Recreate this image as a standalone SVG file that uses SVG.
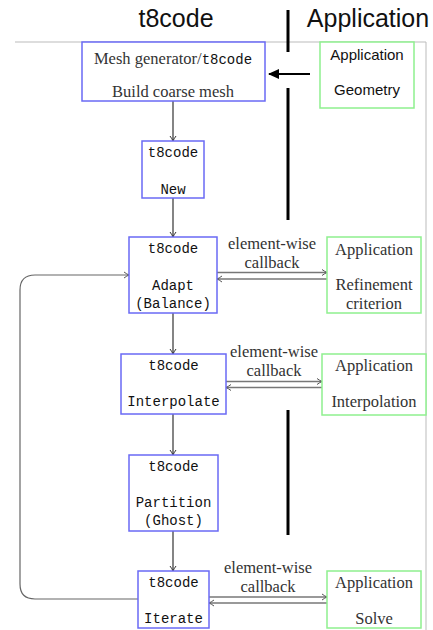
<svg xmlns="http://www.w3.org/2000/svg" width="433" height="630" viewBox="0 0 433 630">
<defs>
<marker id="open" markerWidth="8" markerHeight="8" refX="6" refY="4" orient="auto" markerUnits="userSpaceOnUse">
<path d="M1,1 Q4,3.2 6,4 Q4,4.8 1,7" fill="none" stroke="#333" stroke-width="1"/>
</marker>
<marker id="opengray" markerWidth="8" markerHeight="8" refX="6" refY="4" orient="auto" markerUnits="userSpaceOnUse">
<path d="M1,1 Q4,3.2 6,4 Q4,4.8 1,7" fill="none" stroke="#555" stroke-width="1"/>
</marker>
<marker id="solid" markerWidth="12" markerHeight="10" refX="10" refY="5" orient="auto" markerUnits="userSpaceOnUse">
<path d="M0,0 L11,5 L0,10 Z" fill="#000"/>
</marker>
</defs>
<style>
.t8 { fill: #fff; stroke: #6a6af5; stroke-width: 1.5; }
.app { fill: #fff; stroke: #8ef08e; stroke-width: 1.5; }
.mono { font-family: "Liberation Mono", "DejaVu Sans Mono", monospace; font-size: 14px; fill: #111; text-anchor: middle; }
.serif { font-family: "Liberation Serif", "DejaVu Serif", serif; font-size: 16.5px; fill: #333; text-anchor: middle; }
.sans { font-family: "Liberation Sans", Arial, sans-serif; font-size: 15px; fill: #111; text-anchor: middle; }
.head { font-family: "Liberation Sans", Arial, sans-serif; font-size: 25px; fill: #111; text-anchor: middle; }
.flow { stroke: #333; stroke-width: 1.2; fill: none; marker-end: url(#open); }
.cb { stroke: #777; stroke-width: 1.6; fill: none; marker-end: url(#opengray); }
.sep { stroke: #000; stroke-width: 3; }
</style>
<rect width="433" height="630" fill="#fff"/>
<g id="frame">
<path d="M15,42 H426 V630" fill="none" stroke="#bbb" stroke-width="1"/>
</g>
<g id="headers">
<text class="head" x="176" y="27">t8code</text>
<text class="head" x="368" y="27">Application</text>
</g>
<g id="separators">
<line class="sep" x1="288" y1="10" x2="288" y2="52"/>
<line class="sep" x1="288" y1="88" x2="288" y2="220"/>
<line class="sep" x1="288" y1="410" x2="288" y2="535"/>
</g>
<g id="connectors">
<line class="flow" x1="173" y1="101" x2="173" y2="141"/>
<line class="flow" x1="173" y1="198" x2="173" y2="237"/>
<line class="flow" x1="173" y1="313" x2="173" y2="354"/>
<line class="flow" x1="173" y1="414" x2="173" y2="455"/>
<line class="flow" x1="173" y1="531" x2="173" y2="571"/>
<path d="M138,599 H35 Q20,599 20,584 V290 Q20,275 35,275 H129" fill="none" stroke="#666" stroke-width="1.2" marker-end="url(#opengray)"/>
<line x1="310" y1="74" x2="269" y2="74" stroke="#000" stroke-width="2.2" marker-end="url(#solid)"/>
<line class="cb" x1="217" y1="272.5" x2="327" y2="272.5"/>
<line class="cb" x1="327" y1="279" x2="217" y2="279"/>
<line class="cb" x1="226" y1="381.5" x2="322" y2="381.5"/>
<line class="cb" x1="322" y1="387.5" x2="226" y2="387.5"/>
<line class="cb" x1="209" y1="597" x2="327" y2="597"/>
<line class="cb" x1="327" y1="603" x2="209" y2="603"/>
<text class="serif" x="272" y="249">element-wise</text>
<text class="serif" x="272" y="267.5">callback</text>
<text class="serif" x="274" y="357">element-wise</text>
<text class="serif" x="274" y="375.5">callback</text>
<text class="serif" x="268" y="573">element-wise</text>
<text class="serif" x="268" y="591.5">callback</text>
</g>
<g id="mesh">
<rect class="t8" x="82" y="42" width="183" height="59"/>
<text class="serif" x="173" y="64">Mesh generator/<tspan class="mono" style="font-size:14px">t8code</tspan></text>
<text class="serif" x="173" y="97">Build coarse mesh</text>
</g>
<g id="geometry">
<rect class="app" x="320" y="42" width="94" height="66"/>
<text class="sans" x="367" y="60">Application</text>
<text class="sans" x="367" y="95">Geometry</text>
</g>
<g id="new">
<rect class="t8" x="142" y="141" width="62" height="57"/>
<text class="mono" x="173" y="157">t8code</text>
<text class="mono" x="173" y="194">New</text>
</g>
<g id="adapt">
<rect class="t8" x="129" y="237" width="88" height="76"/>
<text class="mono" x="173" y="253">t8code</text>
<text class="mono" x="173" y="290">Adapt</text>
<text class="mono" x="173" y="308">(Balance)</text>
</g>
<g id="refinement">
<rect class="app" x="327" y="237" width="94" height="76"/>
<text class="serif" x="374" y="255">Application</text>
<text class="serif" x="374" y="290">Refinement</text>
<text class="serif" x="374" y="309">criterion</text>
</g>
<g id="interpolate">
<rect class="t8" x="121" y="354" width="105" height="60"/>
<text class="mono" x="173.5" y="370">t8code</text>
<text class="mono" x="173.5" y="406">Interpolate</text>
</g>
<g id="interpolation">
<rect class="app" x="322" y="354" width="104" height="61"/>
<text class="serif" x="374" y="371">Application</text>
<text class="serif" x="374" y="407">Interpolation</text>
</g>
<g id="partition">
<rect class="t8" x="129" y="455" width="89" height="76"/>
<text class="mono" x="173.5" y="471">t8code</text>
<text class="mono" x="173.5" y="507">Partition</text>
<text class="mono" x="173.5" y="525">(Ghost)</text>
</g>
<g id="iterate">
<rect class="t8" x="138" y="571" width="71" height="57"/>
<text class="mono" x="173.5" y="587">t8code</text>
<text class="mono" x="173.5" y="623">Iterate</text>
</g>
<g id="solve">
<rect class="app" x="327" y="571" width="94" height="57"/>
<text class="serif" x="374" y="588">Application</text>
<text class="serif" x="374" y="624">Solve</text>
</g>
</svg>
